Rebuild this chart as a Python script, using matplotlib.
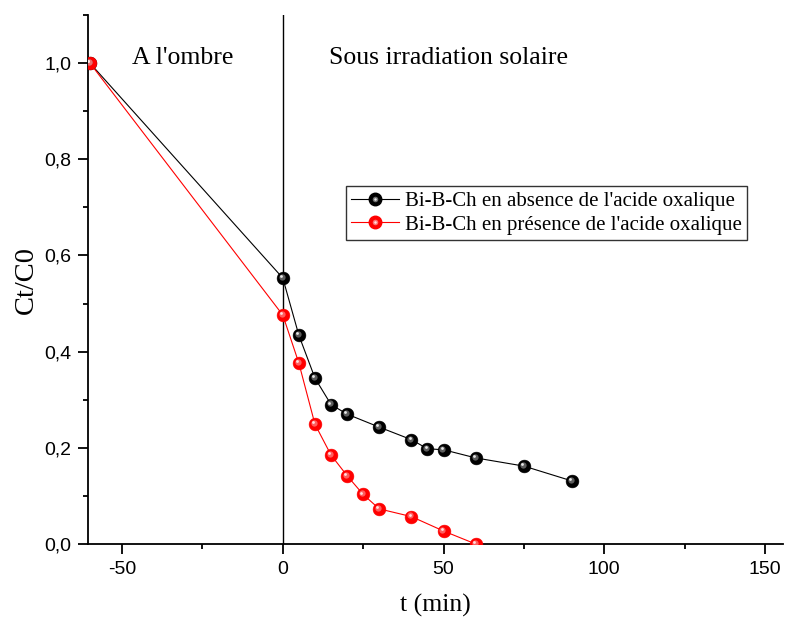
import matplotlib
matplotlib.use("Agg")
import matplotlib.pyplot as plt
from matplotlib.ticker import MultipleLocator, FuncFormatter
from matplotlib.transforms import offset_copy
from matplotlib.lines import Line2D
from matplotlib.legend_handler import HandlerTuple

plt.rcParams["axes.unicode_minus"] = False

# Kinetics of photodegradation: Ct/C0 versus time
t_absence = [-60, 0, 5, 10, 15, 20, 30, 40, 45, 50, 60, 75, 90]
c_absence = [1.0, 0.553, 0.434, 0.345, 0.290, 0.270, 0.243, 0.217, 0.198, 0.196, 0.179, 0.162, 0.131]

t_presence = [-60, 0, 5, 10, 15, 20, 25, 30, 40, 50, 60]
c_presence = [1.0, 0.476, 0.376, 0.249, 0.185, 0.142, 0.103, 0.073, 0.057, 0.027, 0.0]

label_absence = "Bi-B-Ch en absence de l'acide oxalique"
label_presence = "Bi-B-Ch en présence de l'acide oxalique"

serif = ["Liberation Serif", "DejaVu Serif"]
sans = ["Liberation Sans", "DejaVu Sans"]

fig = plt.figure(figsize=(7.87, 6.18), dpi=100)
ax = fig.add_axes([88 / 787, 74 / 618, (783 - 88) / 787, (544 - 15) / 618])


def sphere(ax, x, y, base, mid, shine, label):
    ax.plot(x, y, color=base, lw=0.8, zorder=3, label=label)
    ax.plot(x, y, ls="none", marker="o", ms=9.2, mfc=base, mec=base, mew=0.4, zorder=4)
    tr1 = offset_copy(ax.transData, fig=fig, x=-0.8, y=0.8, units="points")
    ax.plot(x, y, ls="none", marker="o", ms=4.5, mfc=mid, mec="none", alpha=0.85,
            transform=tr1, zorder=5)
    tr2 = offset_copy(ax.transData, fig=fig, x=-1.3, y=1.3, units="points")
    ax.plot(x, y, ls="none", marker="o", ms=2.0, mfc=shine, mec="none",
            transform=tr2, zorder=6)


sphere(ax, t_absence, c_absence, "black", "#6e6e6e", "#e8e8e8", label_absence)
sphere(ax, t_presence, c_presence, "#ff0000", "#ff7070", "#ffe0e0", label_presence)

ax.axvline(0, color="black", lw=1.0, zorder=2)

ax.set_xlim(-60.6, 155.6)
ax.set_ylim(0, 1.1)

for side in ("top", "right"):
    ax.spines[side].set_visible(False)
for side in ("left", "bottom"):
    ax.spines[side].set_linewidth(1.3)

ax.xaxis.set_major_locator(MultipleLocator(50))
ax.xaxis.set_minor_locator(MultipleLocator(25))
ax.yaxis.set_major_locator(MultipleLocator(0.2))
ax.yaxis.set_minor_locator(MultipleLocator(0.1))
ax.yaxis.set_major_formatter(FuncFormatter(lambda v, p: f"{v:.1f}".replace(".", ",")))
ax.tick_params(which="major", direction="out", length=7, width=1.3, labelsize=14, pad=5)
ax.tick_params(which="minor", direction="out", length=3.8, width=1.3)
for lab in ax.get_xticklabels() + ax.get_yticklabels():
    lab.set_family(sans)

ax.set_xlabel("t (min)", family=serif, fontsize=18.5, labelpad=12)
ax.set_ylabel("Ct/C0", family=serif, fontsize=20.5, labelpad=4)

ax.text(-31, 0.999, "A l'ombre", family=serif, fontsize=18.5, ha="center", va="baseline")
ax.text(14.3, 0.999, "Sous irradiation solaire", family=serif, fontsize=18.5,
        ha="left", va="baseline")


def handle(base, mid, shine):
    return (Line2D([], [], color=base, lw=0.8),
            Line2D([], [], ls="none", marker="o", ms=9, mfc=base, mec=base),
            Line2D([], [], ls="none", marker="o", ms=4, mfc=mid, mec="none"),
            Line2D([], [], ls="none", marker="o", ms=1.8, mfc=shine, mec="none"))


leg = ax.legend([handle("black", "#6e6e6e", "#e8e8e8"), handle("#ff0000", "#ff7070", "#ffe0e0")],
                [label_absence, label_presence],
                handler_map={tuple: HandlerTuple(ndivide=1, pad=0)},
                loc="upper left", bbox_to_anchor=(258 / 695, (544 - 186) / 529),
                prop={"family": serif, "size": 15}, frameon=True, fancybox=False,
                edgecolor="#333333", framealpha=1, borderpad=0.25, labelspacing=0.2,
                handlelength=2.3, handletextpad=0.3, borderaxespad=0)
leg.get_frame().set_linewidth(1.0)

fig.savefig("out.png", dpi=100)
